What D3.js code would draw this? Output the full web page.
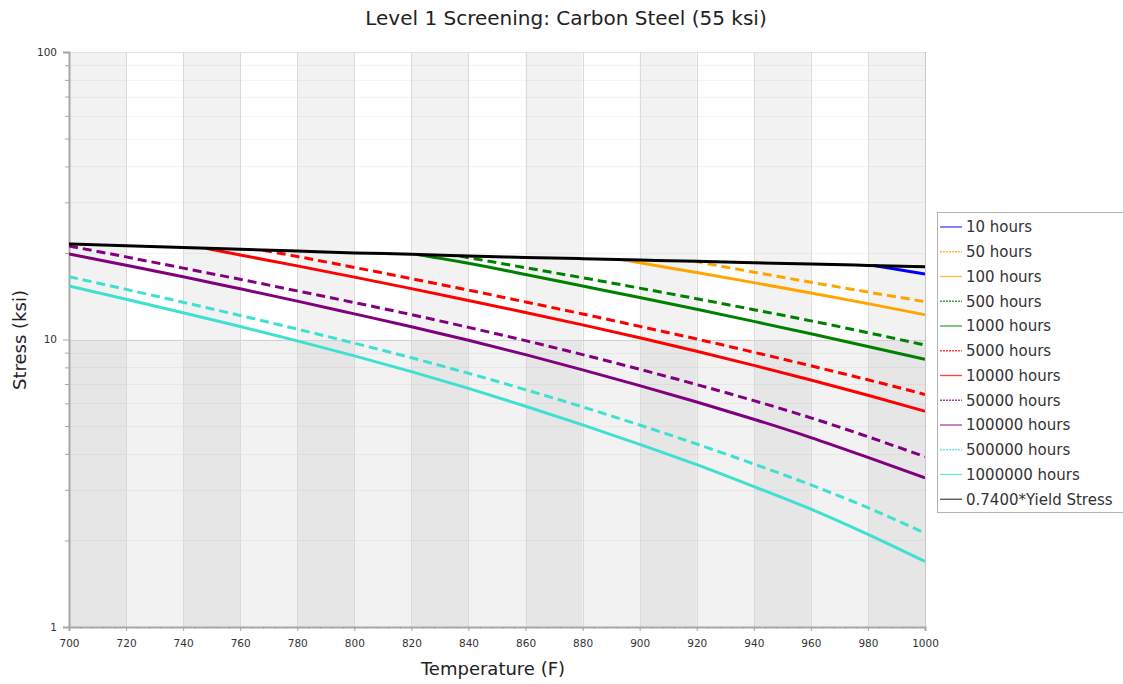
<!DOCTYPE html>
<html>
<head>
<meta charset="utf-8">
<script src="https://cdn.jsdelivr.net/npm/d3@7"></script>
<style>
body { margin: 0; background: #fff; }
text { font-family: "DejaVu Sans", Verdana, sans-serif; fill: #222; }
.tick text { fill: #333; }
</style>
</head>
<body>
<svg id="chart"></svg>
<script>
const temps = [700, 720, 740, 760, 780, 800, 820, 840, 860, 880, 900, 920, 940, 960, 980, 1000]

// stress values (ksi), [temperature, stress]
const yieldStress = [[700, 21.5], [720, 21.2], [740, 20.9], [760, 20.6], [780, 20.3], [800, 20.0], [820, 19.8], [840, 19.5],
    [860, 19.3], [880, 19.1], [900, 18.9], [920, 18.7], [940, 18.5], [960, 18.3], [980, 18.1], [1000, 17.9]]
const h10 = [[982, 18.1], [1000, 16.9]]
const h50 = [[919, 18.72], [940, 17.15], [960, 15.82], [980, 14.62], [1000, 13.54]]
const h100 = [[894, 18.95], [900, 18.49], [920, 17.10], [940, 15.77], [960, 14.52], [980, 13.33], [1000, 12.19]]
const h500 = [[837, 19.5], [860, 17.77], [880, 16.40], [900, 15.09], [920, 13.86], [940, 12.70], [960, 11.61], [980, 10.56], [1000, 9.56]]
const h1000 = [[822, 19.75], [840, 18.41], [860, 16.83], [880, 15.35], [900, 14.00], [920, 12.74], [940, 11.56], [960, 10.47], [980, 9.46], [1000, 8.53]]
const h5000 = [[768, 20.45], [780, 19.44], [800, 17.81], [820, 16.28], [840, 14.85], [860, 13.51], [880, 12.27], [900, 11.11],
    [920, 10.04], [940, 9.03], [960, 8.10], [980, 7.24], [1000, 6.44]]
const h10000 = [[748, 20.75], [760, 19.68], [780, 18.03], [800, 16.48], [820, 15.03], [840, 13.67], [860, 12.41], [880, 11.24],
    [900, 10.14], [920, 9.10], [940, 8.13], [960, 7.23], [980, 6.40], [1000, 5.63]]
const h50000 = [21.14, 19.38, 17.71, 16.19, 14.76, 13.44, 12.20, 11.02, 9.91, 8.86, 7.88, 6.97, 6.13, 5.34, 4.59, 3.91]
const h100000 = [19.84, 18.13, 16.54, 15.01, 13.60, 12.28, 11.08, 9.94, 8.86, 7.84, 6.91, 6.06, 5.28, 4.56, 3.89, 3.30]
const h500000 = [16.54, 14.94, 13.47, 12.12, 10.87, 9.71, 8.64, 7.63, 6.69, 5.83, 5.04, 4.33, 3.69, 3.12, 2.60, 2.12]
const h1000000 = [15.35, 13.81, 12.39, 11.09, 9.89, 8.77, 7.73, 6.76, 5.86, 5.05, 4.32, 3.67, 3.08, 2.57, 2.10, 1.69]

const seriesNames = ['10 hours', '50 hours', '100 hours', '500 hours', '1000 hours', '5000 hours', '10000 hours',
    '50000 hours', '100000 hours', '500000 hours', '1000000 hours', '0.7400*Yield Stress']
const seriesColors = ['#0000ff', '#ffa500', '#ffa500', '#008000', '#008000', '#ff0000', '#ff0000',
    '#800080', '#800080', '#40e0d0', '#40e0d0', '#000000']
const seriesDashed = [false, true, false, true, false, true, false, true, false, true, false, false]

const toPairs = vals => vals.map((v, i) => [temps[i], v])
const seriesData = [h10, h50, h100, h500, h1000, h5000, h10000,
    toPairs(h50000), toPairs(h100000), toPairs(h500000), toPairs(h1000000), yieldStress]

const width = 1123
const height = 684
const plot = { left: 69, right: 925, top: 52, bottom: 627 }

const svg = d3.select('#chart')
    .attr('width', width)
    .attr('height', height)

const x = d3.scaleLinear().domain([700, 1000]).range([plot.left, plot.right])
const y = d3.scaleLog().domain([1, 100]).range([plot.bottom, plot.top])

// checkered background: 20F columns x decades
const cols = d3.range(700, 1000, 20)
const decades = [[1, 10], [10, 100]]
const bg = svg.append('g')
decades.forEach((dec, j) => {
    bg.selectAll(null)
        .data(cols)
        .enter().append('rect')
        .attr('x', d => x(d))
        .attr('y', y(dec[1]))
        .attr('width', d => x(d + 20) - x(d))
        .attr('height', y(dec[0]) - y(dec[1]))
        .attr('fill', (d, i) => j == 1
            ? (i % 2 == 0 ? '#f2f2f2' : '#ffffff')
            : (i % 2 == 0 ? '#e6e6e6' : '#f2f2f2'))
})

// grid
const minorY = [2, 3, 4, 5, 6, 7, 8, 9, 20, 30, 40, 50, 60, 70, 80, 90]
svg.append('g').selectAll('line')
    .data(minorY)
    .enter().append('line')
    .attr('x1', plot.left).attr('x2', plot.right)
    .attr('y1', d => Math.round(y(d)) + 0.5).attr('y2', d => Math.round(y(d)) + 0.5)
    .attr('stroke', 'rgba(0,0,0,0.045)')

svg.append('g').selectAll('line')
    .data([10, 100])
    .enter().append('line')
    .attr('x1', plot.left).attr('x2', plot.right)
    .attr('y1', d => Math.round(y(d)) + 0.5).attr('y2', d => Math.round(y(d)) + 0.5)
    .attr('stroke', d => d == 10 ? '#d2d2d2' : '#e2e2e2')

svg.append('g').selectAll('line')
    .data(d3.range(720, 1001, 20))
    .enter().append('line')
    .attr('x1', d => Math.round(x(d)) + 0.5).attr('x2', d => Math.round(x(d)) + 0.5)
    .attr('y1', plot.top).attr('y2', plot.bottom)
    .attr('stroke', d => d == 1000 ? '#c8c8c8' : '#dadada')

// axes
const yAxis = svg.append('g')
    .attr('transform', `translate(${plot.left}, 0)`)
    .call(d3.axisLeft(y).tickValues([1, 10, 100]).tickFormat(d3.format('d')).tickSize(6).tickPadding(6))
const yMinor = svg.append('g')
    .attr('transform', `translate(${plot.left}, 0)`)
    .call(d3.axisLeft(y).tickValues(minorY).tickFormat('').tickSize(4))
const xAxis = svg.append('g')
    .attr('transform', `translate(0, ${plot.bottom})`)
    .call(d3.axisBottom(x).tickValues(d3.range(700, 1001, 20)).tickFormat(d3.format('d')).tickSize(4).tickPadding(9))
const xMinor = svg.append('g')
    .attr('transform', `translate(0, ${plot.bottom})`)
    .call(d3.axisBottom(x).tickValues(d3.range(700, 1001, 4)).tickFormat('').tickSize(2))

svg.selectAll('.domain').attr('stroke', '#a8a8a8').attr('stroke-width', 2)
svg.selectAll('.tick line').attr('stroke', '#a8a8a8')
svg.selectAll('.tick text').style('font-size', '10.5px')
yMinor.select('.domain').remove()
xMinor.select('.domain').remove()

// curves
const lineGen = d3.line()
    .x(d => x(d[0]))
    .y(d => y(d[1]))
    .curve(d3.curveMonotoneX)

svg.append('defs').append('clipPath').attr('id', 'clip')
    .append('rect')
    .attr('x', plot.left).attr('y', plot.top)
    .attr('width', plot.right - plot.left).attr('height', plot.bottom - plot.top)

const curves = svg.append('g')
    .attr('clip-path', 'url(#clip)')

curves.selectAll('path')
    .data(seriesData)
    .enter().append('path')
    .attr('d', lineGen)
    .attr('fill', 'none')
    .attr('stroke', (d, i) => seriesColors[i])
    .attr('stroke-width', 3)
    .attr('stroke-dasharray', (d, i) => seriesDashed[i] ? '9,5' : null)

// titles
svg.append('text')
    .attr('x', 566)
    .attr('y', 25)
    .attr('text-anchor', 'middle')
    .style('font-size', '20px')
    .text('Level 1 Screening: Carbon Steel (55 ksi)')

svg.append('text')
    .attr('x', 493)
    .attr('y', 675)
    .attr('text-anchor', 'middle')
    .style('font-size', '18px')
    .text('Temperature (F)')

svg.append('text')
    .attr('transform', `translate(26, 340) rotate(-90)`)
    .attr('text-anchor', 'middle')
    .style('font-size', '18px')
    .text('Stress (ksi)')

// legend
const legend = svg.append('g')
legend.append('rect')
    .attr('x', 937.5).attr('y', 212.5)
    .attr('width', 200).attr('height', 300)
    .attr('fill', '#fff')
    .attr('stroke', '#b4b4b4')

const legendItems = legend.selectAll('.legend-item')
    .data(seriesNames)
    .enter().append('g')
    .attr('class', 'legend-item')
    .attr('transform', (d, i) => `translate(0, ${227 + i * 24.75})`)

legendItems.append('line')
    .attr('x1', 940).attr('x2', 962)
    .attr('stroke', (d, i) => seriesColors[i])
    .attr('stroke-opacity', (d, i) => i == 11 ? 0.7 : 0.75)
    .attr('stroke-width', 1.3)
    .attr('stroke-dasharray', (d, i) => seriesDashed[i] ? '2,1' : null)

legendItems.append('text')
    .attr('x', 966)
    .attr('dy', '0.35em')
    .style('font-size', '15px')
    .style('fill', '#333')
    .text(d => d)
</script>
</body>
</html>
